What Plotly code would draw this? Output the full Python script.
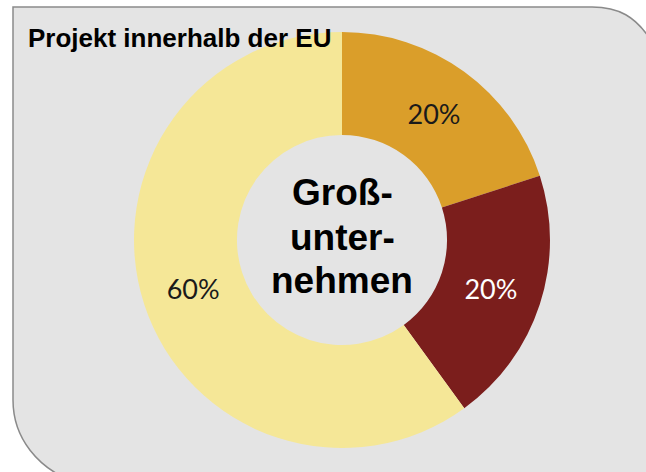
import plotly.graph_objects as go

W, H = 646, 472

# Data
categories = ["Segment A", "Segment B", "Segment C"]
values = [20, 20, 60]
slice_colors = ["#DA9E2A", "#7B1E1C", "#F5E797"]
label_colors = ["#1a1a1a", "#ffffff", "#1a1a1a"]
title_text = "Projekt innerhalb der EU"
center_lines = ["Groß-", "unter-", "nehmen"]


def px(x):
    return x / W


def py(y):
    return 1 - y / H


# donut geometry in pixels
cx, cy, r = 342, 240, 208

fig = go.Figure()
fig.add_trace(go.Pie(
    labels=categories,
    values=values,
    hole=0.505,
    sort=False,
    direction="clockwise",
    rotation=0,
    marker=dict(colors=slice_colors, line=dict(width=0)),
    textinfo="percent",
    texttemplate="%{percent:.0%}",
    textposition="inside",
    insidetextorientation="horizontal",
    insidetextfont=dict(family="Lato", size=27, color=label_colors),
    domain=dict(x=[px(cx - r), px(cx + r)], y=[py(cy + r), py(cy - r)]),
    showlegend=False,
    hoverinfo="label+percent",
))

# background rounded panel
path = (
    f"M {px(13)},{py(7)} L {px(592)},{py(7)} "
    f"C {px(618)},{py(7)} {px(636)},{py(16)} {px(652)},{py(42)} "
    f"L {px(656)},{py(480)} L {px(70)},{py(480)} "
    f"C {px(40)},{py(468)} {px(13)},{py(440)} {px(13)},{py(400)} Z"
)
shapes = [dict(type="path", xref="paper", yref="paper", path=path,
               fillcolor="#E4E4E4", line=dict(color="#8a8a8a", width=1.5),
               layer="below")]

annotations = [dict(text=title_text, x=px(26), y=py(38), xref="paper", yref="paper",
                    xanchor="left", yanchor="middle", showarrow=False,
                    font=dict(family="Liberation Sans", size=26, color="#000000", weight="bold"))]
centers_y = [192.5, 237, 280]
for line, yy in zip(center_lines, centers_y):
    annotations.append(dict(text=line, x=px(cx), y=py(yy), xref="paper", yref="paper",
                            xanchor="center", yanchor="middle", showarrow=False,
                            font=dict(family="Liberation Sans", size=37, color="#000000", weight="bold")))

fig.update_layout(
    width=W, height=H,
    margin=dict(l=0, r=0, t=0, b=0),
    paper_bgcolor="#ffffff",
    plot_bgcolor="rgba(0,0,0,0)",
    shapes=shapes,
    annotations=annotations,
)

fig.write_html("out.html",
               config={"displayModeBar": False},
               post_script="document.body.style.margin='0';document.body.style.overflow='hidden';")
